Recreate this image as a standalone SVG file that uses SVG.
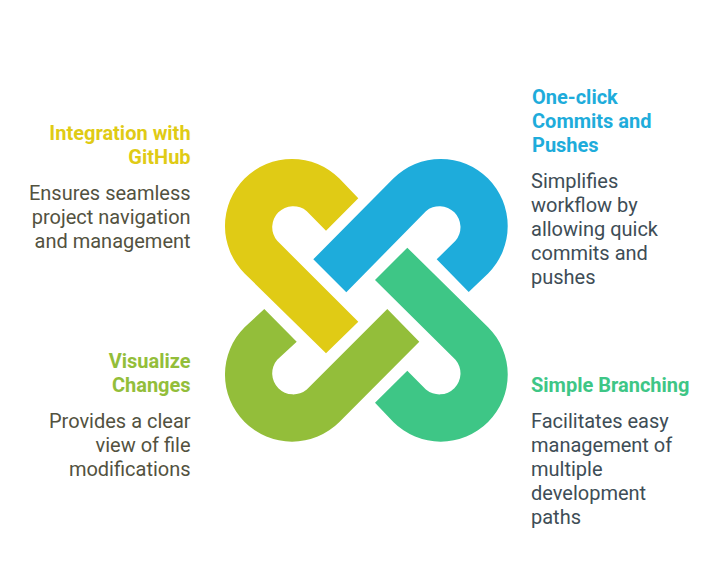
<svg xmlns="http://www.w3.org/2000/svg" width="722" height="578" viewBox="0 0 722 578">
<style>
text{font-family:Roboto,"Liberation Sans",sans-serif;font-size:20px}
.t{font-weight:700}
.l{text-anchor:end}
.y{fill:#E0CB15}.b{fill:#1EACDB}.g{fill:#3EC686}.v{fill:#93BE3A}
.dl{fill:#53523F}.dr{fill:#3E4D56}
</style>
<rect width="722" height="578" fill="#fff"/>
<g id="links">
<path id="link-yellow" class="y" d="M358.3 198.3L339.4 178.6A67 67 0 0 0 244.6 273.4L326 353.3L358.3 321.7L277.2 240.8A21 21 0 0 1 306.8 211.2L326 230.7Z"/>
<path id="link-blue" class="b" d="M313.3 259.3L393.3 178.6A67 67 0 0 1 488.1 273.4L468.7 292L436.7 259.3L455.5 240.8A21 21 0 0 0 425.9 211.2L346.3 292.3Z"/>
<path id="link-green" class="g" d="M407.3 247.7L488.1 327.2A67 67 0 0 1 393.3 422L375 402.7L407.3 370.7L425.9 389.4A21 21 0 0 0 455.5 359.8L375 280Z"/>
<path id="link-lime" class="v" d="M264.3 309L244.6 327.2A67 67 0 0 0 339.4 422L419.3 341.7L387.3 309L306.8 389.4A21 21 0 0 1 277.2 359.8L296.7 341.7Z"/>
</g>
<g id="node-github">
<text class="t y l" x="190.6" y="140">Integration with</text>
<text class="t y l" x="190.6" y="164">GitHub</text>
<text class="dl l" x="190.6" y="200">Ensures seamless</text>
<text class="dl l" x="190.6" y="224">project navigation</text>
<text class="dl l" x="190.6" y="248">and management</text>
</g>
<g id="node-commits">
<text class="t b" x="532" y="104">One-click</text>
<text class="t b" x="532" y="128">Commits and</text>
<text class="t b" x="532" y="152">Pushes</text>
<text class="dr" x="531" y="188">Simplifies</text>
<text class="dr" x="531" y="212">workflow by</text>
<text class="dr" x="531" y="236">allowing quick</text>
<text class="dr" x="531" y="260">commits and</text>
<text class="dr" x="531" y="284">pushes</text>
</g>
<g id="node-changes">
<text class="t v l" x="190.6" y="368">Visualize</text>
<text class="t v l" x="190.6" y="392">Changes</text>
<text class="dl l" x="190.6" y="428">Provides a clear</text>
<text class="dl l" x="190.6" y="452">view of file</text>
<text class="dl l" x="190.6" y="476">modifications</text>
</g>
<g id="node-branching">
<text class="t g" x="531" y="392">Simple Branching</text>
<text class="dr" x="531" y="428">Facilitates easy</text>
<text class="dr" x="531" y="452">management of</text>
<text class="dr" x="531" y="476">multiple</text>
<text class="dr" x="531" y="500">development</text>
<text class="dr" x="531" y="524">paths</text>
</g>
</svg>
